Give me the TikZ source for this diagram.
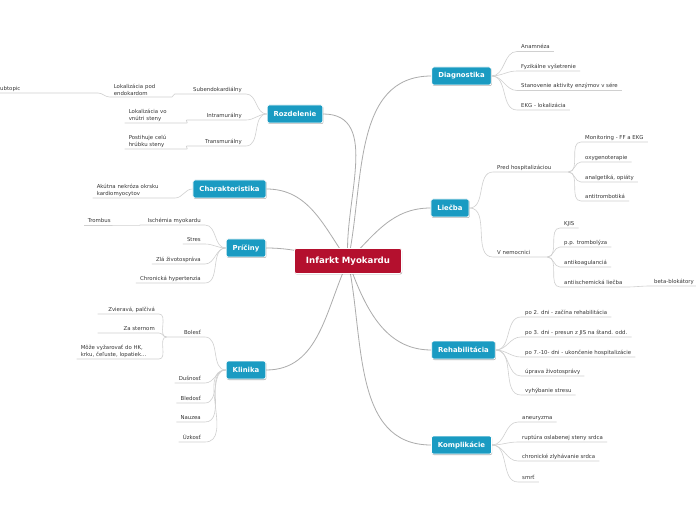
\documentclass[tikz,border=0pt]{standalone}
\usepackage{fontspec}
\setmainfont{DejaVu Sans}
\usetikzlibrary{backgrounds,shadows}
\definecolor{rootred}{RGB}{180,16,46}
\definecolor{topicblue}{RGB}{26,155,194}
\definecolor{linegray}{RGB}{172,172,172}
\definecolor{sublinegray}{RGB}{208,208,208}
\definecolor{textgray}{RGB}{55,55,55}
\tikzset{
  central/.style={fill=rootred, draw=white, line width=0.8pt, rounded corners=2pt, text=white,
    font=\fontsize{8.6}{10}\selectfont\bfseries, minimum width=107pt, minimum height=25pt,
    drop shadow={shadow xshift=0.6pt, shadow yshift=-1pt, fill=black, opacity=0.3}},
  topic/.style={fill=topicblue, draw=white, line width=0.8pt, rounded corners=2pt, text=white,
    font=\fontsize{6.9}{8}\selectfont\bfseries, inner xsep=6.5pt, minimum height=18pt,
    drop shadow={shadow xshift=0.6pt, shadow yshift=-1pt, fill=black, opacity=0.3}},
  sub/.style={font=\fontsize{5.4}{6.6}\selectfont, text=textgray, inner xsep=4pt, inner ysep=1.2pt},
  subr/.style={sub, anchor=south west, text depth=1.2pt, align=left},
  subl/.style={sub, anchor=south east, text depth=1.2pt, align=right},
  wrapl/.style={sub, anchor=south east, text width=#1, align=left},
  link/.style={draw=linegray, line width=0.8pt},
  sublink/.style={draw=sublinegray, line width=0.6pt},
}
\begin{document}
\begin{tikzpicture}[x=1pt,y=1pt]
  \useasboundingbox (0,0) rectangle (696,520);

  % Central topic
  \node[central] (root) at (348,259) {Infarkt Myokardu};

  % Main topics
  \node[topic] (rozd) at (295,406) {Rozdelenie};
  \node[topic] (char) at (229.5,331) {Charakteristika};
  \node[topic] (pric) at (246,272) {Príčiny};
  \node[topic] (klin) at (246,150) {Klinika};
  \node[topic] (diag) at (461.5,444) {Diagnostika};
  \node[topic] (liec) at (450,312) {Liečba};
  \node[topic] (rehab) at (463.5,170) {Rehabilitácia};
  \node[topic] (kompl) at (461.5,75) {Komplikácie};

  % Diagnostika
  \node[subr] (anam) at (517,468.5) {Anamnéza};
  \node[subr] (fyz) at (517,449) {Fyzikálne vyšetrenie};
  \node[subr] (enz) at (517,429.5) {Stanovenie aktivity enzýmov v sére};
  \node[subr] (ekg) at (517,410) {EKG - lokalizácia};

  % Liecba
  \node[subr, text width=67pt] (pred) at (493,348) {Pred hospitalizáciou};
  \node[subr, text width=46pt] (nemoc) at (493,263) {V nemocnici};
  \node[subr] (monit) at (581,378) {Monitoring - FF a EKG};
  \node[subr] (oxy) at (581,358) {oxygenoterapie};
  \node[subr] (analg) at (581,338) {analgetiká, opiáty};
  \node[subr] (antitr) at (581,319) {antitrombotiká};
  \node[subr] (kjis) at (560,292) {KJIS};
  \node[subr] (tromb) at (560,273) {p.p. trombolýza};
  \node[subr] (koag) at (560,253) {antikoagulanciá};
  \node[subr] (antiis) at (560,233) {antiischemická liečba};
  \node[subr, text width=42pt] (beta) at (650,234) {beta-blokátory};

  % Rehabilitacia
  \node[subr] (po2) at (521,203) {po 2. dni - začína rehabilitácia};
  \node[subr] (po3) at (521,183) {po 3. dni - presun z JIS na štand. odd.};
  \node[subr] (po7) at (521,163) {po 7.-10- dni - ukončenie hospitalizácie};
  \node[subr] (uprava) at (521,144) {úprava životosprávy};
  \node[subr] (vyhyb) at (521,125) {vyhýbanie stresu};

  % Komplikacie
  \node[subr] (aneur) at (518,98) {aneuryzma};
  \node[subr] (rupt) at (518,78) {ruptúra oslabenej steny srdca};
  \node[subr] (zlyh) at (518,59) {chronické zlyhávanie srdca};
  \node[subr] (smrt) at (518,38) {smrť};

  % Rozdelenie
  \node[subl, text width=63pt] (subendo) at (246,426) {Subendokardiálny};
  \node[subl, text width=51pt] (intra) at (246,400) {Intramurálny};
  \node[subl, text width=51pt] (trans) at (246,374) {Transmurálny};
  \node[wrapl=54pt] (lokpod) at (172,423) {Lokalizácia pod\\endokardom};
  \node[wrapl=97pt] (subtop) at (98,427) {Subtopic};
  \node[wrapl=54pt] (lokvo) at (187,397) {Lokalizácia vo\\vnútri steny};
  \node[wrapl=54pt] (posti) at (187,371) {Postihuje celú\\hrúbku steny};

  % Charakteristika
  \node[wrapl=74pt] (akut) at (175,322) {Akútna nekróza okrsku\\kardiomyocytov};

  % Priciny
  \node[subl, text width=57pt] (isch) at (205,295) {Ischémia myokardu};
  \node[subl, text width=48pt, align=left] (tromb2) at (140,295) {Trombus};
  \node[subl] (stres) at (205,276) {Stres};
  \node[subl] (zla) at (205,256) {Zlá životospráva};
  \node[subl] (chron) at (205,237) {Chronická hypertenzia};

  % Klinika
  \node[subl, text width=30pt] (bol) at (205,183) {Bolesť};
  \node[subl, text width=53pt] (zvier) at (159,206) {Zvieravá, palčivá};
  \node[subl, text width=53pt] (ster) at (159,187) {Za sternom};
  \node[wrapl=74pt] (moze) at (159,161) {Môže vyžarovať do HK,\\krku, čeľuste, lopatiek...};
  \node[subl] (dus) at (205,137) {Dušnosť};
  \node[subl] (bled) at (205,117) {Bledosť};
  \node[subl] (nauz) at (205,98) {Nauzea};
  \node[subl] (uzk) at (205,78) {Úzkosť};

  \begin{scope}[on background layer]
    \fill[white] (0,0) rectangle (696,520);
    % Links from the centre
    \draw[link] (root.center) to[out=78,in=180] (diag.west);
    \draw[link] (root.center) to[out=45,in=180] (liec.west);
    \draw[link] (root.center) to[out=290,in=180] (rehab.west);
    \draw[link] (root.center) to[out=282,in=180] (kompl.west);
    \draw[link] (root.center) to[out=95,in=0] (rozd.east);
    \draw[link] (root.center) to[out=125,in=0] (char.east);
    \draw[link] (root.center) to[out=172,in=0] (pric.east);
    \draw[link] (root.center) to[out=245,in=0] (klin.east);

    % Right side subtopics
    \foreach \n in {anam,fyz,enz,ekg}
      \draw[sublink] (diag.east) to[out=0,in=180] (\n.south west) -- (\n.south east);
    \foreach \n in {pred,nemoc}
      \draw[sublink] (liec.east) to[out=0,in=180] (\n.south west) -- (\n.south east);
    \foreach \n in {monit,oxy,analg,antitr}
      \draw[sublink] (pred.south east) to[out=0,in=180] (\n.south west) -- (\n.south east);
    \foreach \n in {kjis,tromb,koag,antiis}
      \draw[sublink] (nemoc.south east) to[out=0,in=180] (\n.south west) -- (\n.south east);
    \draw[sublink] (antiis.south east) to[out=0,in=180] (beta.south west) -- (beta.south east);
    \foreach \n in {po2,po3,po7,uprava,vyhyb}
      \draw[sublink] (rehab.east) to[out=0,in=180] (\n.south west) -- (\n.south east);
    \foreach \n in {aneur,rupt,zlyh,smrt}
      \draw[sublink] (kompl.east) to[out=0,in=180] (\n.south west) -- (\n.south east);

    % Left side subtopics
    \foreach \n in {subendo,intra,trans}
      \draw[sublink] (rozd.west) to[out=180,in=0] (\n.south east) -- (\n.south west);
    \draw[sublink] (subendo.south west) to[out=180,in=0] (lokpod.south east) -- (lokpod.south west);
    \draw[sublink] (lokpod.south west) to[out=180,in=0] (subtop.south east) -- (subtop.south west);
    \draw[sublink] (intra.south west) to[out=180,in=0] (lokvo.south east) -- (lokvo.south west);
    \draw[sublink] (trans.south west) to[out=180,in=0] (posti.south east) -- (posti.south west);
    \draw[sublink] (char.west) to[out=180,in=0] (akut.south east) -- (akut.south west);
    \foreach \n in {isch,stres,zla,chron}
      \draw[sublink] (pric.west) to[out=180,in=0] (\n.south east) -- (\n.south west);
    \draw[sublink] (isch.south west) to[out=180,in=0] (tromb2.south east) -- (tromb2.south west);
    \foreach \n in {bol,dus,bled,nauz,uzk}
      \draw[sublink] (klin.west) to[out=180,in=0] (\n.south east) -- (\n.south west);
    \foreach \n in {zvier,ster,moze}
      \draw[sublink] (bol.south west) to[out=180,in=0] (\n.south east) -- (\n.south west);
  \end{scope}
\end{tikzpicture}
\end{document}
